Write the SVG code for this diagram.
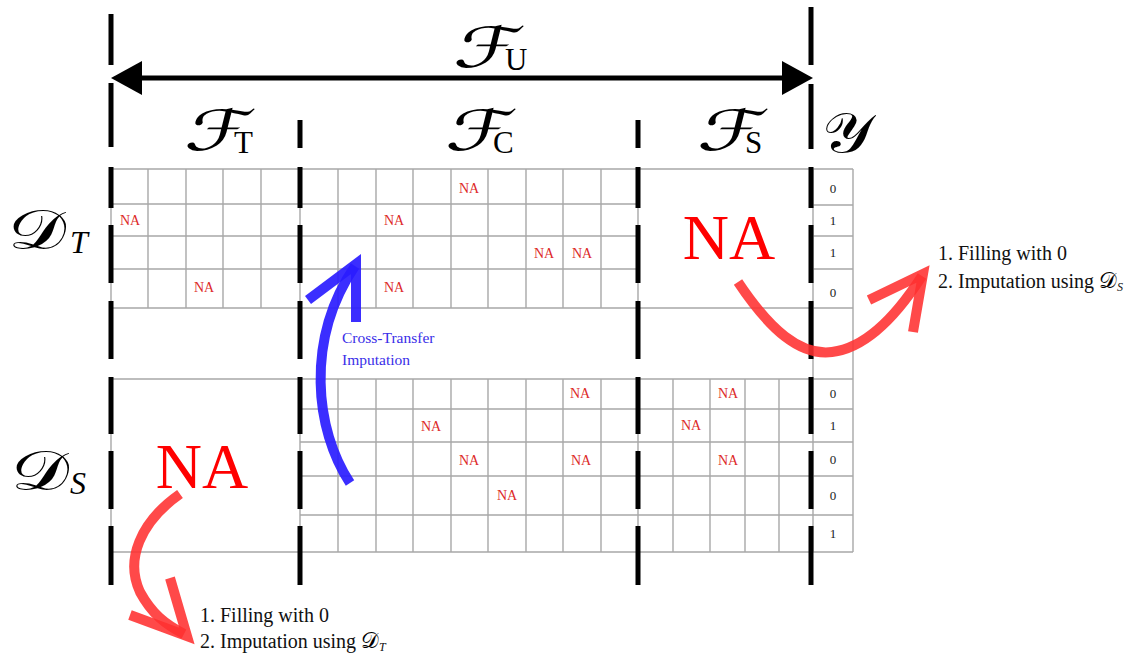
<svg xmlns="http://www.w3.org/2000/svg" width="1144" height="656" viewBox="0 0 1144 656">
<style>
.g{stroke:#a8a8a8;stroke-width:1.4;fill:none}
.d{stroke:#000;stroke-width:5;fill:none}
.na{font-family:"Liberation Serif",serif;font-size:14px;fill:#dd2a2a;text-anchor:middle}
.big{font-family:"Liberation Serif",serif;font-size:64px;fill:#ff0000;text-anchor:middle}
.y{font-family:"Liberation Serif",serif;font-size:13px;fill:#222;text-anchor:middle}
.scr{font-family:"DejaVu Sans",sans-serif;fill:#000}
.sub{font-family:"Liberation Serif",serif;fill:#000}
.t{font-family:"Liberation Serif",serif;font-size:20px;fill:#111}
.bl{font-family:"Liberation Serif",serif;font-size:15.5px;fill:#3a2ee8}
.ra{stroke:#ff3030;stroke-opacity:0.88;stroke-width:10;fill:none}
.ba{stroke:#2a1cff;stroke-opacity:0.92;stroke-width:10;fill:none}
</style>
<rect width="1144" height="656" fill="#fff"/>
<g id="grid">
<path class="g" d="M111 169H853M111 204H638M813 205H853M111 236H638M813 236H853M111 269H638M813 269H853M111 308H853M111 379H853M300 409H853M300 442H853M300 476H853M300 515H853M111 552H853"/>
<path class="g" d="M111 169V308M148 169V308M186 169V308M223 169V308M261 169V308M300 169V308M338 169V308M376 169V308M413 169V308M451 169V308M488 169V308M526 169V308M563 169V308M601 169V308M638 169V308M813 169V552M853 169V552"/>
<path class="g" d="M111 379V552M300 379V552M338 379V552M376 379V552M413 379V552M451 379V552M488 379V552M526 379V552M563 379V552M601 379V552M638 379V552M673 379V552M710 379V552M745 379V552M779 379V552"/>
</g>
<g id="dividers">
<path class="d" d="M111 14V65M111 83V147M111 167V208M111 225V283M111 301V359M111 377V434M111 451V509M111 526V585"/>
<path class="d" d="M300 120V148M300 167V208M300 225V283M300 301V359M300 377V434M300 451V509M300 526V585"/>
<path class="d" d="M638 120V148M638 167V208M638 225V283M638 301V359M638 377V434M638 451V509M638 526V585"/>
<path class="d" d="M811 7V65M811 84V149M811 167V208M811 225V283M811 301V359M811 377V434M811 451V509M811 526V585"/>
</g>
<g id="fu-arrow">
<line x1="135" y1="78" x2="788" y2="78" stroke="#000" stroke-width="5"/>
<polygon points="111,78 142,61 142,95" fill="#000"/>
<polygon points="813,78 782,61 782,95" fill="#000"/>
</g>
<g id="headers">
<text class="scr" font-size="56" transform="translate(452 67) skewX(-14) scale(1.45 1)">ℱ</text><text class="sub" x="505" y="70" font-size="31">U</text>
<text class="scr" font-size="56" transform="translate(183 150) skewX(-14) scale(1.45 1)">ℱ</text><text class="sub" x="234" y="153" font-size="31">T</text>
<text class="scr" font-size="56" transform="translate(444 150) skewX(-14) scale(1.45 1)">ℱ</text><text class="sub" x="493" y="153" font-size="31">C</text>
<text class="scr" font-size="56" transform="translate(696 150) skewX(-14) scale(1.45 1)">ℱ</text><text class="sub" x="745" y="153" font-size="31">S</text>
<text class="scr" font-size="56" transform="translate(822 152) scale(1.15 1)">𝒴</text>
</g>
<g id="rowlabels">
<text class="scr" font-size="56" transform="translate(8 249) scale(1.3 1)">𝒟</text><text class="sub" x="70" y="253" font-size="32" font-style="italic">T</text>
<text class="scr" font-size="56" transform="translate(11 490) scale(1.3 1)">𝒟</text><text class="sub" x="70" y="494" font-size="32" font-style="italic">S</text>
</g>
<g id="na-cells">
<text class="na" x="130" y="225">NA</text>
<text class="na" x="204" y="292">NA</text>
<text class="na" x="469" y="193">NA</text>
<text class="na" x="394" y="225">NA</text>
<text class="na" x="544" y="258">NA</text>
<text class="na" x="582" y="258">NA</text>
<text class="na" x="394" y="292">NA</text>
<text class="na" x="580" y="398">NA</text>
<text class="na" x="431" y="431">NA</text>
<text class="na" x="469" y="465">NA</text>
<text class="na" x="581" y="465">NA</text>
<text class="na" x="507" y="500">NA</text>
<text class="na" x="728" y="398">NA</text>
<text class="na" x="691" y="430">NA</text>
<text class="na" x="728" y="465">NA</text>
<text class="big" x="729" y="259">NA</text>
<text class="big" x="202" y="488">NA</text>
</g>
<g id="y-values">
<text class="y" x="833" y="193">0</text>
<text class="y" x="833" y="225">1</text>
<text class="y" x="833" y="257">1</text>
<text class="y" x="833" y="297">0</text>
<text class="y" x="833" y="398">0</text>
<text class="y" x="833" y="430">1</text>
<text class="y" x="833" y="464">0</text>
<text class="y" x="833" y="500">0</text>
<text class="y" x="833" y="538">1</text>
</g>
<g id="connectors">
<path class="ra" d="M738 282C770 330 800 356 832 352C865 348 895 318 922 276"/>
<path class="ra" d="M869 300L923 274L913 332" stroke-linejoin="miter"/>
<path class="ra" d="M180 494C140 522 125 560 140 592C152 614 165 624 184 634"/>
<path class="ra" d="M130 615L187 636L170 578" stroke-linejoin="miter"/>
<path class="ba" d="M350 483C315 430 305 340 355 266"/>
<path class="ba" d="M308 300L356 264L356 322" stroke-linejoin="miter"/>
</g>
<g id="notes">
<text class="bl" x="342" y="343">Cross-Transfer</text>
<text class="bl" x="342" y="365">Imputation</text>
<text class="t" x="938" y="260">1. Filling with 0</text>
<text class="t" x="938" y="288">2. Imputation using <tspan class="scr" font-size="22">𝒟</tspan><tspan font-size="12" font-style="italic" dy="3">S</tspan></text>
<text class="t" x="200" y="622">1. Filling with 0</text>
<text class="t" x="200" y="648">2. Imputation using <tspan class="scr" font-size="22">𝒟</tspan><tspan font-size="12" font-style="italic" dy="3">T</tspan></text>
</g>
</svg>
